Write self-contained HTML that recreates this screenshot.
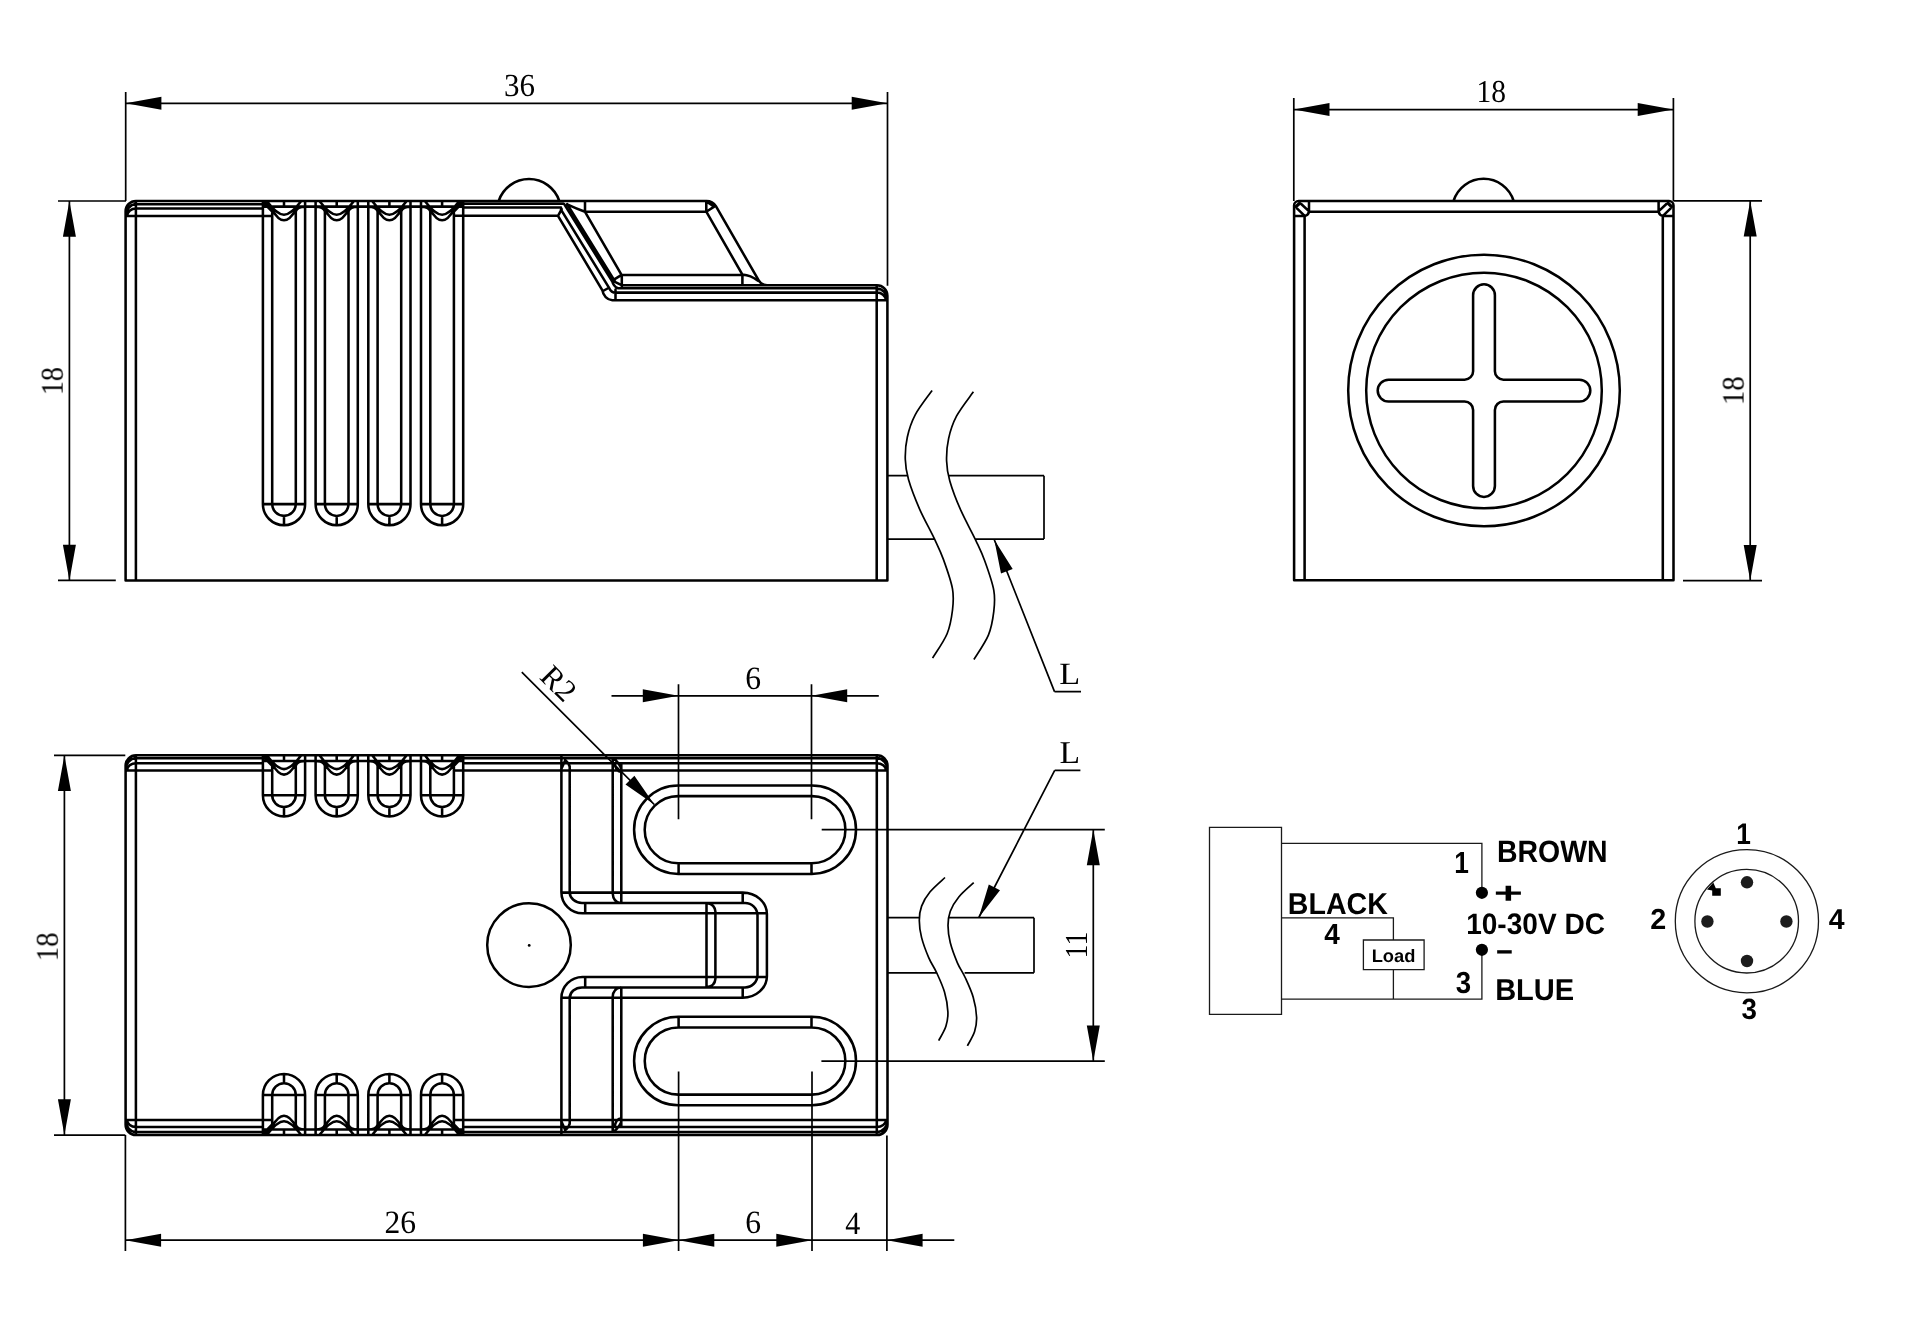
<!DOCTYPE html>
<html lang="en">
<head>
<meta charset="utf-8">
<title>Sensor dimension drawing</title>
<style>
html,body{margin:0;padding:0;background:#fff;}
body{width:1920px;height:1327px;overflow:hidden;}
svg{display:block;}
text{text-rendering:geometricPrecision;}
.s{font-family:"Liberation Serif",serif;fill:#000;}
.b{font-family:"Liberation Sans",sans-serif;font-weight:bold;fill:#000;}
.o{fill:none;stroke:#000;stroke-width:2.55;stroke-linecap:round;stroke-linejoin:round;}
.d{fill:none;stroke:#000;stroke-width:1.7;stroke-linecap:butt;}
.t{fill:none;stroke:#1a1a1a;stroke-width:1.3;}
.k{fill:#000;stroke:none;}
</style>
</head>
<body>
<svg width="1920" height="1327" viewBox="0 0 1920 1327">
<rect x="0" y="0" width="1920" height="1327" fill="#fff"/>
<path class="o" d="M125.6 580.4L125.6 211.3A10.3 10.3 0 0 1 135.9 201L706.3 201A11.1 11.1 0 0 1 715.9 206.2L758.7 280.4A9.8 9.8 0 0 0 767.1 285.3L877 285.3A10.4 10.4 0 0 1 887.4 295.7L887.4 580.4Z
M135.9 201L135.9 580.4
M876.7 285.3L876.7 580.4
M125.9 215.5A11 11 0 0 1 135.9 204.1
M127.1 215.6A9 8 0 0 1 135.9 208.5
M876.7 288.4A11 11 0 0 1 887.1 299.5
M876.7 292.6A9 8 0 0 1 885.9 300.2
M135.9 204.2L262.9 204.2
M135.9 208.5L262.9 208.5
M125.6 216L271.9 216
M463.2 203.8L563.5 203.8
M463.2 207.4L561 207.4
M454.2 215.8L558 215.8
M262.9 201L262.9 504.1A21.1 21.1 0 0 0 305.1 504.1L305.1 201
M272.2 209.6L272.2 504.1A11.8 11.8 0 0 0 295.8 504.1L295.8 209.6
M262.9 504.1L305.1 504.1
M284 515.9L284 525.2
M284 201L284 206.6
M267.5 202Q277.5 214.8 284 214.8Q290.5 214.8 300.5 202
M272.2 209.6Q278.1 220.3 284 220.3Q289.9 220.3 295.8 209.6
M315.6 201L315.6 504.1A21.1 21.1 0 0 0 357.8 504.1L357.8 201
M324.9 209.6L324.9 504.1A11.8 11.8 0 0 0 348.5 504.1L348.5 209.6
M315.6 504.1L357.8 504.1
M336.7 515.9L336.7 525.2
M336.7 201L336.7 206.6
M320.2 202Q330.2 214.8 336.7 214.8Q343.2 214.8 353.2 202
M324.9 209.6Q330.8 220.3 336.7 220.3Q342.6 220.3 348.5 209.6
M368.3 201L368.3 504.1A21.1 21.1 0 0 0 410.5 504.1L410.5 201
M377.6 209.6L377.6 504.1A11.8 11.8 0 0 0 401.2 504.1L401.2 209.6
M368.3 504.1L410.5 504.1
M389.4 515.9L389.4 525.2
M389.4 201L389.4 206.6
M372.9 202Q382.9 214.8 389.4 214.8Q395.9 214.8 405.9 202
M377.6 209.6Q383.5 220.3 389.4 220.3Q395.3 220.3 401.2 209.6
M421 201L421 504.1A21.1 21.1 0 0 0 463.2 504.1L463.2 201
M430.3 209.6L430.3 504.1A11.8 11.8 0 0 0 453.9 504.1L453.9 209.6
M421 504.1L463.2 504.1
M442.1 515.9L442.1 525.2
M442.1 201L442.1 206.6
M425.6 202Q435.6 214.8 442.1 214.8Q448.6 214.8 458.6 202
M430.3 209.6Q436.2 220.3 442.1 220.3Q448 220.3 453.9 209.6
M262.9 206.6L463.2 206.6
M295.8 211.5Q296.8 206.6 305.3 206.6L315.4 206.6Q323.9 206.6 324.9 211.5
M348.5 211.5Q349.5 206.6 358 206.6L368.1 206.6Q376.6 206.6 377.6 211.5
M401.2 211.5Q402.2 206.6 410.7 206.6L420.8 206.6Q429.3 206.6 430.3 211.5
M262.9 202L272.2 211.5
M463.2 202L453.9 211.5
M264.2 202L272.6 210.2
M461.9 202L453.5 210.2
M265.5 202L273 208.9
M460.6 202L453.1 208.9
M498.7 201A31.9 31.9 0 0 1 559.3 201
M558 215.8L602.4 290.4
M602.4 290.4A11.5 11.5 0 0 0 612.3 300.3
M561 209.6L609.4 288.4
M609.4 288.4A7 7 0 0 0 616 292.6
M564.2 204.2L612.3 281.5
M567.2 204.2L615 281.5
M585.2 212.2L621.4 274.6
M558 215.8L561.7 209.2
M603 291L607.5 288.5
M615.5 289.5L615.5 299.6
M612.3 280.6L620.8 275.4
M612.3 280.6L621.6 285.2
M621.8 275L621.8 287.4
M612.3 281.5Q613.5 286.5 618 288.2
M618 288.2L876.7 288.2
M621.6 285.3L767 285.3
M616 292.6L876.7 292.6
M612.3 300.3L887.4 300.3
M621.4 275L742.4 275
M585 211.7L706.3 211.7
M585 201L585 211.7
M567.2 204.4Q577 209 585 211.7
M706.3 211.7L742.4 274.6
M706.3 201L706.3 211.7
M706.3 211.7L714.2 206.6
M707.5 202.3L714.2 206.6
M742.4 275L742.4 285.3
M742.4 274.6Q751 275.5 757.6 280.6
M1294.1 580.3L1294.1 205.5A4.5 4.5 0 0 1 1298.6 201L1669 201A4.5 4.5 0 0 1 1673.5 205.5L1673.5 580.3Z
M1304.6 216L1304.6 580.3
M1662.8 216L1662.8 580.3
M1309 211.7L1658.6 211.7
M1309 201L1309 211.8
M1294.1 216L1304.6 216
M1304.6 216Q1308.3 215.2 1309 211.8
M1297.2 208.7L1303.9 215.2
M1301.2 204L1308.3 210.6
M1658.6 201L1658.6 211.8
M1673.5 216L1663 216
M1663 216Q1659.3 215.2 1658.6 211.8
M1670.4 208.7L1663.7 215.2
M1666.4 204L1659.3 210.6
M1453.5 201A31.5 31.5 0 0 1 1513.7 201
M1473.1 371.2L1473.1 295.2A10.9 10.9 0 0 1 1494.9 295.2L1494.9 371.2A8.5 8.5 0 0 0 1503.4 379.7L1579.4 379.7A10.9 10.9 0 0 1 1579.4 401.5L1503.4 401.5A8.5 8.5 0 0 0 1494.9 410L1494.9 486A10.9 10.9 0 0 1 1473.1 486L1473.1 410A8.5 8.5 0 0 0 1464.6 401.5L1388.6 401.5A10.9 10.9 0 0 1 1388.6 379.7L1464.6 379.7A8.5 8.5 0 0 0 1473.1 371.2Z
M125.6 1124.7L125.6 765.6A10.3 10.3 0 0 1 135.9 755.3L877.2 755.3A10.3 10.3 0 0 1 887.5 765.6L887.5 1124.7A10.3 10.3 0 0 1 877.2 1135L135.9 1135A10.3 10.3 0 0 1 125.6 1124.7Z
M135.9 755.3L135.9 1135
M876.8 755.3L876.8 1135
M135.9 758.3L262.9 758.3
M463.2 758.3L876.8 758.3
M135.9 763.3L262.9 763.3
M463.2 763.3L876.8 763.3
M125.6 770.4L271.9 770.4
M454.2 770.4L887.5 770.4
M125.9 770.1A11 11 0 0 1 135.9 758.1
M127.1 770.1A9 7 0 0 1 135.9 763.3
M887.2 770.1A11 11 0 0 0 876.8 758.1
M886 770.1A9 7 0 0 0 876.8 763.3
M135.9 1132L262.9 1132
M463.2 1132L876.8 1132
M135.9 1127L262.9 1127
M463.2 1127L876.8 1127
M125.6 1119.9L271.9 1119.9
M454.2 1119.9L887.5 1119.9
M125.9 1120.2A11 11 0 0 0 135.9 1132.2
M127.1 1120.2A9 7 0 0 0 135.9 1127
M887.2 1120.2A11 11 0 0 1 876.8 1132.2
M886 1120.2A9 7 0 0 1 876.8 1127
M262.9 755.3L262.9 795.3A21.1 21.1 0 0 0 305.1 795.3L305.1 755.3
M272.2 763.9L272.2 795.3A11.8 11.8 0 0 0 295.8 795.3L295.8 763.9
M262.9 795.3L305.1 795.3
M284 807.1L284 816.4
M284 755.3L284 760.9
M267.5 756.3Q277.5 769.1 284 769.1Q290.5 769.1 300.5 756.3
M272.2 763.9Q278.1 774.6 284 774.6Q289.9 774.6 295.8 763.9
M315.6 755.3L315.6 795.3A21.1 21.1 0 0 0 357.8 795.3L357.8 755.3
M324.9 763.9L324.9 795.3A11.8 11.8 0 0 0 348.5 795.3L348.5 763.9
M315.6 795.3L357.8 795.3
M336.7 807.1L336.7 816.4
M336.7 755.3L336.7 760.9
M320.2 756.3Q330.2 769.1 336.7 769.1Q343.2 769.1 353.2 756.3
M324.9 763.9Q330.8 774.6 336.7 774.6Q342.6 774.6 348.5 763.9
M368.3 755.3L368.3 795.3A21.1 21.1 0 0 0 410.5 795.3L410.5 755.3
M377.6 763.9L377.6 795.3A11.8 11.8 0 0 0 401.2 795.3L401.2 763.9
M368.3 795.3L410.5 795.3
M389.4 807.1L389.4 816.4
M389.4 755.3L389.4 760.9
M372.9 756.3Q382.9 769.1 389.4 769.1Q395.9 769.1 405.9 756.3
M377.6 763.9Q383.5 774.6 389.4 774.6Q395.3 774.6 401.2 763.9
M421 755.3L421 795.3A21.1 21.1 0 0 0 463.2 795.3L463.2 755.3
M430.3 763.9L430.3 795.3A11.8 11.8 0 0 0 453.9 795.3L453.9 763.9
M421 795.3L463.2 795.3
M442.1 807.1L442.1 816.4
M442.1 755.3L442.1 760.9
M425.6 756.3Q435.6 769.1 442.1 769.1Q448.6 769.1 458.6 756.3
M430.3 763.9Q436.2 774.6 442.1 774.6Q448 774.6 453.9 763.9
M262.9 760.9L463.2 760.9
M295.8 765.8Q296.8 760.9 305.3 760.9L315.4 760.9Q323.9 760.9 324.9 765.8
M348.5 765.8Q349.5 760.9 358 760.9L368.1 760.9Q376.6 760.9 377.6 765.8
M401.2 765.8Q402.2 760.9 410.7 760.9L420.8 760.9Q429.3 760.9 430.3 765.8
M262.9 756.3L272.2 765.8
M463.2 756.3L453.9 765.8
M264.2 756.3L272.6 764.5
M461.9 756.3L453.5 764.5
M265.5 756.3L273 763.2
M460.6 756.3L453.1 763.2
M262.9 1135L262.9 1095A21.1 21.1 0 0 1 305.1 1095L305.1 1135
M272.2 1126.4L272.2 1095A11.8 11.8 0 0 1 295.8 1095L295.8 1126.4
M262.9 1095L305.1 1095
M284 1083.2L284 1073.9
M284 1135L284 1129.4
M267.5 1134Q277.5 1121.2 284 1121.2Q290.5 1121.2 300.5 1134
M272.2 1126.4Q278.1 1115.7 284 1115.7Q289.9 1115.7 295.8 1126.4
M315.6 1135L315.6 1095A21.1 21.1 0 0 1 357.8 1095L357.8 1135
M324.9 1126.4L324.9 1095A11.8 11.8 0 0 1 348.5 1095L348.5 1126.4
M315.6 1095L357.8 1095
M336.7 1083.2L336.7 1073.9
M336.7 1135L336.7 1129.4
M320.2 1134Q330.2 1121.2 336.7 1121.2Q343.2 1121.2 353.2 1134
M324.9 1126.4Q330.8 1115.7 336.7 1115.7Q342.6 1115.7 348.5 1126.4
M368.3 1135L368.3 1095A21.1 21.1 0 0 1 410.5 1095L410.5 1135
M377.6 1126.4L377.6 1095A11.8 11.8 0 0 1 401.2 1095L401.2 1126.4
M368.3 1095L410.5 1095
M389.4 1083.2L389.4 1073.9
M389.4 1135L389.4 1129.4
M372.9 1134Q382.9 1121.2 389.4 1121.2Q395.9 1121.2 405.9 1134
M377.6 1126.4Q383.5 1115.7 389.4 1115.7Q395.3 1115.7 401.2 1126.4
M421 1135L421 1095A21.1 21.1 0 0 1 463.2 1095L463.2 1135
M430.3 1126.4L430.3 1095A11.8 11.8 0 0 1 453.9 1095L453.9 1126.4
M421 1095L463.2 1095
M442.1 1083.2L442.1 1073.9
M442.1 1135L442.1 1129.4
M425.6 1134Q435.6 1121.2 442.1 1121.2Q448.6 1121.2 458.6 1134
M430.3 1126.4Q436.2 1115.7 442.1 1115.7Q448 1115.7 453.9 1126.4
M262.9 1129.4L463.2 1129.4
M295.8 1124.5Q296.8 1129.4 305.3 1129.4L315.4 1129.4Q323.9 1129.4 324.9 1124.5
M348.5 1124.5Q349.5 1129.4 358 1129.4L368.1 1129.4Q376.6 1129.4 377.6 1124.5
M401.2 1124.5Q402.2 1129.4 410.7 1129.4L420.8 1129.4Q429.3 1129.4 430.3 1124.5
M262.9 1134L272.2 1124.5
M463.2 1134L453.9 1124.5
M264.2 1134L272.6 1125.8
M461.9 1134L453.5 1125.8
M265.5 1134L273 1127.1
M460.6 1134L453.1 1127.1
M678.3 785.5L811.8 785.5A44.2 44.2 0 0 1 811.8 873.9L678.3 873.9A44.2 44.2 0 0 1 678.3 785.5Z
M678.3 796.1L811.8 796.1A33.6 33.6 0 0 1 811.8 863.3L678.3 863.3A33.6 33.6 0 0 1 678.3 796.1Z
M678.6 863.3L678.6 873.9
M811.5 863.3L811.5 873.9
M678.3 1016.8L811.8 1016.8A44.2 44.2 0 0 1 811.8 1105.2L678.3 1105.2A44.2 44.2 0 0 1 678.3 1016.8Z
M678.3 1027.4L811.8 1027.4A33.6 33.6 0 0 1 811.8 1094.6L678.3 1094.6A33.6 33.6 0 0 1 678.3 1027.4Z
M678.6 1027.4L678.6 1016.8
M811.5 1027.4L811.5 1016.8
M561.4 756.3L561.4 892.2A21.1 21.1 0 0 0 582.5 913.3
M569.7 766.3L569.7 892.3A12.3 10.6 0 0 0 582 902.9
M561 769.8L565.2 760.3
M565.2 760.3Q569 762.8 569.7 766.8
M561.4 892.6L742.7 892.6
M582 902.9L745 902.9
M582.5 913.3L766.9 913.3
M585.2 902.9L585.2 913.3
M742.7 892.6L742.7 902.9
M742.7 892.6A24.2 21.5 0 0 1 766.9 914.1
M745 902.9A12.5 12.5 0 0 1 757.5 915.4
M707.5 903.2Q714.8 904.5 715.4 911.5
M612.7 758.8L612.7 893.5Q613.2 902 620.5 902.9
M621.3 763.3L621.3 902.9
M612.7 758.8Q617 759.8 621.3 768.3
M614.5 763.3Q616 771.3 620.5 771.8
M561.4 1134L561.4 998.1A21.1 21.1 0 0 1 582.5 977
M569.7 1124L569.7 998A12.3 10.6 0 0 1 582 987.4
M561 1120.5L565.2 1130
M565.2 1130Q569 1127.5 569.7 1123.5
M561.4 997.7L742.7 997.7
M582 987.4L745 987.4
M582.5 977L766.9 977
M585.2 987.4L585.2 977
M742.7 997.7L742.7 987.4
M742.7 997.7A24.2 21.5 0 0 0 766.9 976.2
M745 987.4A12.5 12.5 0 0 0 757.5 974.9
M707.5 987.1Q714.8 985.8 715.4 978.8
M612.7 1131.5L612.7 996.8Q613.2 988.3 620.5 987.4
M621.3 1127L621.3 987.4
M612.7 1131.5Q617 1130.5 621.3 1122
M614.5 1127Q616 1119 620.5 1118.5
M766.9 914.1L766.9 976.2
M757.5 915.4L757.5 974.9
M706.5 902.9L706.5 987.4
M715.4 911.5L715.4 978.8"/>
<path class="d" d="M887.4 475.7L907.4 475.7
M948.6 475.7L1044 475.7
M887.4 539.1L934.6 539.1
M975.8 539.1L1044 539.1
M1044 475.7L1044 539.1
M932.1 390.4C929.3 394.5 919.3 407 915.2 414.8C911.1 422.6 908.9 429.7 907.3 437.2C905.6 444.7 905.1 452.6 905.3 459.6C905.5 466.7 906.1 471.2 908.5 479.5C910.9 487.8 915.4 499.4 919.7 509.3C924.1 519.2 930.7 530.9 934.6 539.2C938.5 547.5 940.3 550.8 943.3 559.1C946.3 567.4 951 580.4 952.5 588.9C954 597.4 953.4 602.5 952.5 610C951.6 617.5 950.4 625.7 947.1 633.7C943.8 641.7 935 654 932.6 658.1
M973.4 391.8C970.6 395.9 960.6 408.4 956.5 416.2C952.4 424 950.2 431.1 948.6 438.6C946.9 446.1 946.4 453.9 946.6 461C946.8 468.1 947.4 472.6 949.8 480.9C952.2 489.2 956.6 500.8 961 510.7C965.4 520.6 972 532.3 975.9 540.6C979.8 548.9 981.6 552.2 984.6 560.5C987.6 568.8 992.3 581.8 993.8 590.3C995.3 598.8 994.7 603.9 993.8 611.4C992.9 618.9 991.7 627.1 988.4 635.1C985.1 643.1 976.3 655.4 973.9 659.5
M994.3 539.7L1054.5 691.6
M1054.5 691.6L1081 691.6
M125.7 92L125.7 201
M887.5 92L887.5 285.7
M125.7 103.3L887.4 103.3
M58 201L126 201
M58 580.4L115.8 580.4
M69.4 201L69.4 580.4
M1293.8 98L1293.8 201
M1673.4 98L1673.4 201
M1293.8 109.6L1673.4 109.6
M1673.4 200.9L1762 200.9
M1683 580.6L1762 580.6
M1750.2 200.9L1750.2 580.6
M887.5 917.7L920.1 917.7
M948.8 917.7L1034 917.7
M887.5 972.8L936.7 972.8
M964.6 972.8L1034 972.8
M1034 917.7L1034 972.8
M945 877.5C942.5 879.9 934 887 930.1 891.8C926.2 896.6 923.4 901.3 921.6 906.1C919.8 910.9 919.3 915.1 919.3 920.4C919.3 925.6 920 931.4 921.6 937.6C923.2 943.8 926.2 951.7 928.7 957.6C931.2 963.5 934.1 967.1 936.7 972.8C939.3 978.5 942.6 985.5 944.5 992C946.4 998.5 947.7 1006.3 947.9 1012C948.1 1017.7 947.4 1021.5 945.9 1026.3C944.4 1031.1 939.9 1038.2 938.7 1040.6
M973.7 882.7C971.2 885.1 962.7 892.2 958.8 897C954.9 901.8 952.1 906.5 950.3 911.3C948.5 916.1 948 920.4 948 925.6C948 930.9 948.7 936.6 950.3 942.8C951.9 949 954.9 956.9 957.4 962.8C959.9 968.7 962.8 972.3 965.4 978C968 983.7 971.3 990.7 973.2 997.2C975.1 1003.7 976.4 1011.5 976.6 1017.2C976.8 1022.9 976.1 1026.7 974.6 1031.5C973.1 1036.3 968.6 1043.4 967.4 1045.8
M1054.7 770.4L1080.4 770.4
M1054.7 770.4L978.8 917.5
M54 755.3L125.3 755.3
M54 1135.2L125.3 1135.2
M64.4 755.3L64.4 1135
M125.4 1135L125.4 1251
M678.6 1071.5L678.6 1251
M812 1071.5L812 1251
M886.9 1135.5L886.9 1251
M125.4 1240.2L954.3 1240.2
M678.5 684.2L678.5 819.3
M811.5 684.2L811.5 819.3
M611.5 695.8L878.8 695.8
M521.8 672.2L654.3 804.5
M821.7 829.6L1104.8 829.6
M821.4 1061.2L1104.8 1061.2
M1093.3 829.6L1093.3 1061.2"/>
<path class="t" d="M1209.5 827.4H1281.5V1014.4H1209.5Z
M1281.5 843.4H1481.9V888
M1281.5 917.9H1393.4V940
M1363.4 940H1424.1V969.6H1363.4Z
M1393.4 969.6V999.1
M1281.5 999.1H1481.9V955"/>
<path class="k" d="M994.3 539.7L1012.7 569L1001 573.6Z
M125.7 103.3L161.4 96.8L161.4 109.8Z
M887.4 103.3L851.7 109.8L851.7 96.8Z
M69.4 201L75.9 236.7L62.9 236.7Z
M69.4 580.4L62.9 544.7L75.9 544.7Z
M1293.8 109.6L1329.5 103.1L1329.5 116.1Z
M1673.4 109.6L1637.7 116.1L1637.7 103.1Z
M1750.2 200.9L1756.7 236.6L1743.7 236.6Z
M1750.2 580.6L1743.7 544.9L1756.7 544.9Z
M978.8 917.5L988.8 884.4L1000 890.2Z
M64.4 755.3L70.9 791L57.9 791Z
M64.4 1135L57.9 1099.3L70.9 1099.3Z
M125.4 1240.2L161.1 1233.7L161.1 1246.7Z
M678.6 1240.2L642.9 1246.7L642.9 1233.7Z
M678.6 1240.2L714.3 1233.7L714.3 1246.7Z
M812 1240.2L776.3 1246.7L776.3 1233.7Z
M886.9 1240.2L922.6 1233.7L922.6 1246.7Z
M678.5 695.8L642.8 702.3L642.8 689.3Z
M811.5 695.8L847.2 689.3L847.2 702.3Z
M654.3 804.5L625.5 784.6L634.4 775.7Z
M1093.3 829.6L1099.8 865.3L1086.8 865.3Z
M1093.3 1061.2L1086.8 1025.5L1099.8 1025.5Z
M1707 889.4L1713.3 882.5L1715.8 888.3H1720.8V895.8H1712.2V890.6Z"/>
<path d="M1294.9 207.6L1300.7 202.2" fill="none" stroke="#000" stroke-width="3.3" stroke-linecap="butt"/>
<path d="M1672.7 207.6L1666.9 202.2" fill="none" stroke="#000" stroke-width="3.3" stroke-linecap="butt"/>
<circle cx="1484" cy="390.5" r="135.8" fill="none" stroke="#000" stroke-width="2.5"/>
<circle cx="1484" cy="390.5" r="117.8" fill="none" stroke="#000" stroke-width="2.5"/>
<circle cx="529" cy="945.1" r="41.8" fill="none" stroke="#000" stroke-width="2.5"/>
<circle cx="529.2" cy="945.4" r="1.4" fill="#000"/>
<circle cx="1481.9" cy="892.8" r="6.1" fill="#000"/>
<circle cx="1481.9" cy="949.8" r="6.1" fill="#000"/>
<circle cx="1746.9" cy="921.2" r="71.6" fill="none" stroke="#1a1a1a" stroke-width="1.3"/>
<circle cx="1746.7" cy="921.2" r="51.8" fill="none" stroke="#1a1a1a" stroke-width="1.3"/>
<circle cx="1747" cy="882.3" r="6.2" fill="#1c1c1c"/>
<circle cx="1707.4" cy="921.5" r="6.2" fill="#1c1c1c"/>
<circle cx="1786.4" cy="921.5" r="6.2" fill="#1c1c1c"/>
<circle cx="1747" cy="961" r="6.2" fill="#1c1c1c"/>
<g opacity="0.999">
<text class="s" font-size="34.23" transform="translate(1059.17 684.2) scale(1 0.905)">L</text>
<text class="s" font-size="31" transform="translate(504.03 96.28) scale(1 1.041)">36</text>
<text class="s" font-size="28.23" transform="translate(62.48 395.17) rotate(-90) scale(1 1.118)">18</text>
<text class="s" font-size="29.49" transform="translate(1476.62 102.38) scale(1 1.085)">18</text>
<text class="s" font-size="28.91" transform="translate(1743.59 405.23) rotate(-90) scale(1 1.081)">18</text>
<text class="s" font-size="33.65" transform="translate(1059.49 762.8) scale(1 0.944)">L</text>
<text class="s" font-size="28.8" transform="translate(57.99 961.32) rotate(-90) scale(1 1.091)">18</text>
<text class="s" font-size="31.57" transform="translate(384.38 1233.43) scale(1 1.029)">26</text>
<text class="s" font-size="31.58" transform="translate(745.26 1233.48) scale(1 1.027)">6</text>
<text class="s" font-size="30.11" transform="translate(845.2 1233.5) scale(1 1.066)">4</text>
<text class="s" font-size="31.58" transform="translate(745.36 688.57) scale(1 1.031)">6</text>
<text class="s" font-size="31" transform="translate(538.6 677.9) rotate(45)" x="0" y="0">R2</text>
<text class="s" font-size="27.98" transform="translate(1087 958.45) rotate(-90) scale(1 1.143)">11</text>
<text class="b" font-size="28.47" transform="translate(1496.98 862.19) scale(1 1.087)">BROWN</text>
<text class="b" font-size="28.55" transform="translate(1287.87 914) scale(1 1.055)">BLACK</text>
<text class="b" font-size="29.06" transform="translate(1495.14 999.8) scale(1 1.041)">BLUE</text>
<text class="b" font-size="28.06" transform="translate(1466.15 933.93) scale(1 1.054)">10-30V DC</text>
<text class="b" font-size="28.6" text-anchor="middle" transform="translate(1461.6 873.2) scale(0.92 1.065)">1</text>
<text class="b" font-size="28.04" transform="translate(1324.18 943.75) scale(1 1.038)">4</text>
<text class="b" font-size="27.64" transform="translate(1455.63 992.52) scale(1 1.103)">3</text>
<text class="b" font-size="18.31" transform="translate(1371.66 961.82) scale(1 0.984)">Load</text>
<text class="b" font-size="31.25" transform="translate(1493.67 903.16) scale(1.6 0.946)">+</text>
<text class="b" font-size="29.49" transform="translate(1496.22 960.6) scale(1 1.153)">–</text>
<text class="b" font-size="28.6" text-anchor="middle" transform="translate(1743.6 844.1) scale(0.92 1.045)">1</text>
<text class="b" font-size="28.75" transform="translate(1650.19 929) scale(1 1.012)">2</text>
<text class="b" font-size="28.41" transform="translate(1828.87 929) scale(1 1.014)">4</text>
<text class="b" font-size="27.74" transform="translate(1741.48 1018.63) scale(1 1.056)">3</text>
</g>
</svg>
</body>
</html>
